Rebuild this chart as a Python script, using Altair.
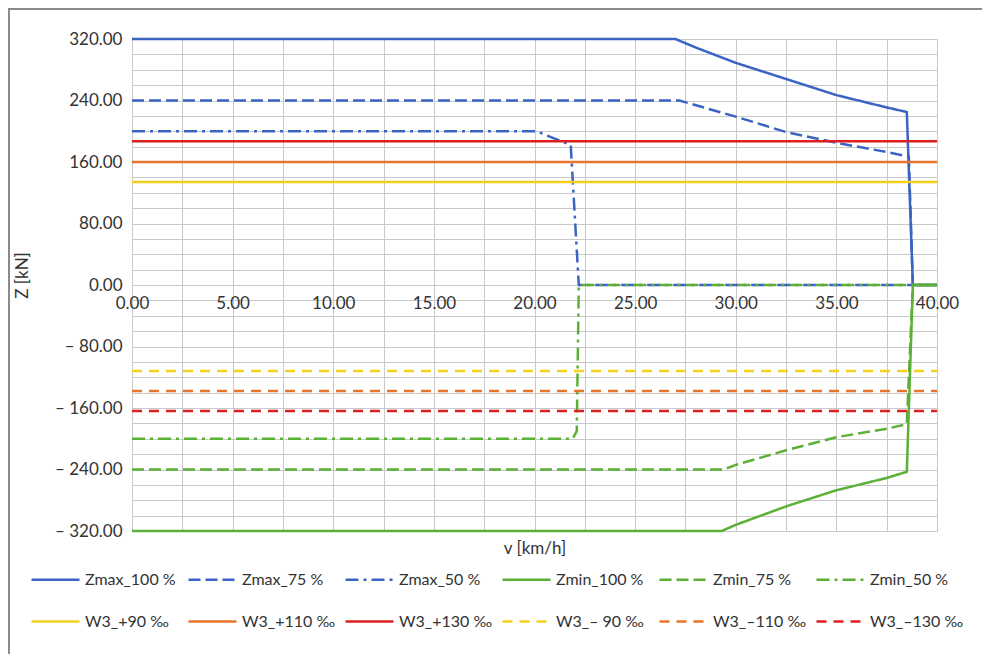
import altair as alt
import pandas as pd

# ---------------- data ----------------
series = ["Zmax_100 %", "Zmax_75 %", "Zmax_50 %", "Zmin_100 %", "Zmin_75 %", "Zmin_50 %",
          "W3_+90 ‰", "W3_+110 ‰", "W3_+130 ‰", "W3_– 90 ‰", "W3_–110 ‰", "W3_–130 ‰"]

zmax100_v = [0, 27.0, 28.1, 30.0, 32.5, 35.0, 37.5, 38.5, 38.8, 40.0]
zmax100_z = [320, 320, 308, 289, 268, 247, 231, 225, 0, 0]
zmax75_v = [0, 27.2, 30.0, 32.5, 35.0, 37.5, 38.6, 38.8, 40.0]
zmax75_z = [240, 240, 219, 199, 185, 173, 167, 0, 0]
zmax50_v = [0, 20.1, 21.8, 22.2, 40.0]
zmax50_z = [200, 200, 182, 0, 0]
zmin100_v = [0, 29.3, 30.0, 32.5, 35.0, 37.5, 38.5, 38.8, 40.0]
zmin100_z = [-320, -320, -312, -288, -267, -251, -243, 0, 0]
zmin75_v = [0, 29.4, 30.0, 32.5, 35.0, 37.5, 38.5, 38.8, 40.0]
zmin75_z = [-240, -240, -234, -215, -198, -187, -181, 0, 0]
zmin50_v = [0, 21.9, 22.1, 22.2, 40.0]
zmin50_z = [-200, -200, -190, 0, 0]
w3_v = [0, 40.0]
w3_levels = [134, 160, 187, -112, -138, -164]

colors = ["#3b63c4", "#3b63c4", "#3b63c4", "#5cb037", "#5cb037", "#5cb037",
          "#f4d01e", "#e8742c", "#dc1f1f", "#f4d01e", "#e8742c", "#dc1f1f"]
dashes = [[1, 0], [12, 5], [13, 5, 3, 5], [1, 0], [12, 5], [13, 5, 3, 5],
          [1, 0], [1, 0], [1, 0], [10, 7], [10, 7], [10, 7]]

x_grid = [i * 2.5 for i in range(17)]
y_grid = [-320 + i * 20 for i in range(33)]

rows = []
curves = [(zmax100_v, zmax100_z), (zmax75_v, zmax75_z), (zmax50_v, zmax50_z),
          (zmin100_v, zmin100_z), (zmin75_v, zmin75_z), (zmin50_v, zmin50_z)]
for name, (vs, zs) in zip(series[:6], curves):
    for i, (v, z) in enumerate(zip(vs, zs)):
        rows.append({"series": name, "v": v, "z": z, "idx": i})
for name, lev in zip(series[6:], w3_levels):
    for i, v in enumerate(w3_v):
        rows.append({"series": name, "v": v, "z": lev, "idx": i})
df = pd.DataFrame(rows)

FONT = "Lato"
W, H = 805, 492

legend_opts = dict(title=None, orient="none", legendX=-102, legendY=515, direction="horizontal",
                   columns=6, symbolType="stroke", symbolSize=2304,
                   symbolStrokeWidth=2.5, labelFontSize=16, labelFont=FONT,
                   labelColor="#333333", columnPadding=4, rowPadding=8,
                   gridAlign="all", labelLimit=200)

lines = alt.Chart(df).mark_line(strokeWidth=2.5, clip=False).encode(
    x=alt.X("v:Q", scale=alt.Scale(domain=[0, 40], nice=False, zero=False),
            axis=alt.Axis(values=x_grid, orient="bottom", offset=-H / 2,
                          labelExpr="datum.value % 5 == 0 ? format(datum.value, '.2f') : ''",
                          title="v [km/h]", titleY=H / 2 + 17, titleBaseline="middle",
                          labelPadding=10, labelFlush=False, labelOverlap=False,
                          ticks=False, domain=False, grid=True)),
    y=alt.Y("z:Q", scale=alt.Scale(domain=[-320, 320], nice=False, zero=False),
            axis=alt.Axis(values=y_grid,
                          labelExpr="datum.value % 80 == 0 ? (datum.value < 0 ? '– ' + format(-datum.value, '.2f') : format(datum.value, '.2f')) : ''",
                          title="Z [kN]", titleX=-110, titleY=236, titleAngle=-90,
                          titleAlign="center", titleBaseline="middle",
                          labelPadding=10, labelFlush=False, labelOverlap=False,
                          ticks=False, domain=False, grid=True)),
    color=alt.Color("series:N", scale=alt.Scale(domain=series, range=colors),
                    legend=alt.Legend(**legend_opts)),
    strokeDash=alt.StrokeDash("series:N", scale=alt.Scale(domain=series, range=dashes),
                              legend=alt.Legend(**legend_opts)),
    order=alt.Order("idx:Q"),
)

frame = alt.Chart(pd.DataFrame({"a": [0]})).mark_rect(
    fill=None, stroke="#8a8a8a", strokeWidth=2, clip=False
).encode(
    x=alt.value(-123), x2=alt.value(W + 200), y=alt.value(-30), y2=alt.value(H + 300)
)

chart = alt.layer(frame, lines).properties(
    width=W, height=H,
    autosize=alt.AutoSizeParams(type="none"),
    padding={"left": 124, "top": 31, "right": 45, "bottom": 123},
).configure(background="white").configure_view(stroke=None).configure_axis(
    gridColor="#c9c9c9", gridWidth=1, labelFont=FONT, labelFontSize=17,
    labelColor="#333333", titleFont=FONT, titleFontSize=17, titleColor="#333333",
    titleFontWeight="normal"
)

chart.save("out.html", embed_options={"renderer": "svg", "actions": False})
